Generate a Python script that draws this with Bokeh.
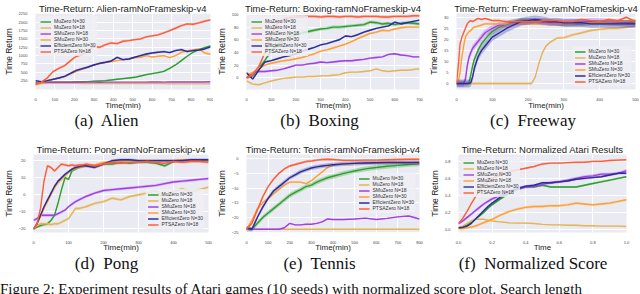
from bokeh.plotting import figure
from bokeh.layouts import column, row
from bokeh.models import Legend, LegendItem, Div, FixedTicker, PrintfTickFormatter, Range1d
from bokeh.embed import file_html
from bokeh.resources import INLINE

COLORS = ["#2ca02c", "#e6b453", "#a23fe6", "#ffa030", "#2c2c9e", "#ff5c38"]
LABELS = ["MuZero N=30", "MuZero N=18", "SMuZero N=18", "SMuZero N=30", "EfficientZero N=30", "PTSAZero N=18"]
LABELS_NORM = ["MuZero N=30", "MuZero N=18", "SMuZero N=30", "SMuZero N=18", "EfficientZero N=30", "PTSAZero N=18"]

# ---------------- Alien ----------------
alien_x = [0, 30, 60, 90, 120, 150, 180, 210, 240, 270, 300, 330, 360, 390, 420, 450, 480, 510, 540, 570, 600,
           630, 660, 690, 720, 750, 780, 810, 840, 870, 900]
alien_muzero30 = [200, 210, 200, 200, 200, 200, 205, 210, 215, 220, 230, 240, 250, 270, 290, 310, 330, 350, 390, 430,
                  460, 490, 530, 620, 720, 850, 980, 1100, 1180, 1240, 1290]
alien_muzero18 = [120, 160, 170, 170, 170, 170, 170, 170, 165, 165, 165, 165, 160, 160, 160, 160, 160, 160, 160, 160,
                  160, 160, 160, 155, 155, 155, 155, 155, 155, 155, 155]
alien_smuzero18 = [150, 190, 200, 200, 205, 200, 200, 200, 200, 205, 205, 200, 205, 205, 205, 205, 205, 205, 205, 205,
                   210, 210, 205, 210, 210, 210, 210, 210, 210, 210, 215]
alien_smuzero30 = [150, 200, 240, 290, 330, 370, 450, 530, 590, 650, 720, 760, 790, 820, 850, 880, 900, 940, 950, 1000,
                   960, 980, 1000, 940, 1000, 1100, 1150, 1170, 1200, 1080, 1040]
alien_efficient30 = [250, 220, 250, 290, 330, 380, 470, 560, 610, 660, 720, 770, 800, 840, 950, 880, 900, 950, 1000,
                     1050, 1080, 1100, 1120, 1090, 1150, 1180, 1120, 1150, 1170, 1200, 1260]
alien_ptsa18 = [150, 200, 330, 520, 620, 700, 850, 980, 1030, 1150, 1270, 1250, 1330, 1380, 1360, 1430, 1450, 1480,
                1500, 1560, 1590, 1620, 1680, 1750, 1820, 1900, 1950, 1940, 1980, 2030, 2070]
alien_spread = [25, 8, 8, 20, 30, 35]
alien_xticks = [0, 100, 200, 300, 400, 500, 600, 700, 800, 900]
alien_yticks = [250, 500, 750, 1000, 1250, 1500, 1750, 2000, 2250]

# ---------------- Boxing ----------------
boxing_x = [0, 25, 50, 75, 100, 125, 150, 175, 200, 225, 250, 275, 300, 325, 350, 375, 400, 425, 450, 475, 500,
            525, 550, 575, 600, 625, 650, 675, 700]
boxing_muzero30 = [0, 3, 15, 28, 42, 52, 60, 65, 68, 71, 73, 75, 77, 78, 80, 80, 81, 82, 83, 84, 88, 87, 85, 86, 84,
                   86, 87, 86, 85]
boxing_muzero18 = [-5, -10, -11, -8, -5, -3, -1, 0, 1, 1, 2, 2, 3, 3, 4, 5, 8, 9, 9, 10, 11, 14, 11, 10, 11, 12, 12,
                   13, 14]
boxing_smuzero18 = [0, 8, 10, 10, 11, 12, 14, 17, 20, 20, 22, 23, 25, 24, 25, 26, 27, 27, 28, 29, 31, 32, 33, 37, 38,
                    36, 35, 33, 33]
boxing_smuzero30 = [5, 8, 15, 20, 23, 25, 27, 28, 30, 32, 35, 38, 42, 44, 47, 50, 53, 57, 62, 66, 70, 72, 75, 74, 77,
                    79, 80, 80, 80]
boxing_efficient30 = [8, -2, 12, 25, 27, 30, 33, 35, 38, 42, 45, 48, 52, 54, 57, 60, 66, 65, 68, 72, 75, 78, 80, 82,
                      88, 85, 87, 89, 91]
boxing_ptsa18 = [0, 5, 18, 40, 68, 85, 93, 95, 96, 96, 97, 97, 96, 97, 97, 96, 97, 97, 96, 97, 97, 97, 96, 96, 97, 97,
                 97, 98, 98]
boxing_spread = [2.5, 1, 1.5, 1.5, 1.5, 2.5]
boxing_xticks = [0, 100, 200, 300, 400, 500, 600, 700]
boxing_yticks = [0, 20, 40, 60, 80, 100]

# ---------------- Freeway ----------------
freeway_x = [0, 5, 10, 15, 20, 25, 30, 35, 40, 45, 50, 60, 70, 80, 90, 100, 120, 140, 160, 180, 200, 210, 220, 230,
             240, 250, 260, 280, 300, 325, 350, 375, 400, 425, 450, 475, 500]
freeway_muzero30 = [0, 0, 0, 0, 0, 0, 0, 0.5, 4, 8, 11, 15, 18, 20, 22, 23.5, 25.5, 27, 28, 28.5, 28.5, 28.5, 28.5,
                    28.4, 28.3, 28.2, 28, 27.5, 27, 27, 27, 27.5, 27.5, 27.5, 27.5, 27.5, 28]
freeway_muzero18 = [0, 0, 0, 0, 0, 0, 0, 0, 0, 0, 0, 0, 0, 0, 0, 0, 0, 0, 0, 0, 0, 0, 3, 9, 14, 17, 18.5, 20.5, 20.8,
                    22, 23, 24, 24.5, 25, 25, 25.5, 26]
freeway_smuzero18 = [0, 0, 0, 0, 0, 2, 8, 12, 14, 16, 17, 19, 21, 23, 24, 25, 26.5, 27, 27.5, 28, 28, 28, 28, 28,
                     27.8, 27.8, 27.6, 27.5, 27.5, 27.6, 27.8, 28, 28, 27.8, 27.5, 27.2, 27]
freeway_smuzero30 = [0, 1, 5, 12, 17, 21, 22.5, 23.5, 24, 25, 25.5, 26, 26.5, 27, 27, 27, 27, 27, 27, 27, 27, 27, 27,
                     27, 27, 27, 27, 27, 27, 27.2, 27.5, 27.5, 27.5, 27.8, 28, 28.2, 28.5]
freeway_efficient30 = [0, 0, 0, 0, 0, 0, 0, 0, 0.5, 3, 7, 12, 15, 17, 19, 21, 23, 25, 26.5, 28, 28.5, 28.8, 29, 28.8,
                       28.5, 28.3, 28, 28, 27.5, 27.5, 27.5, 27, 27, 27, 27, 27, 27]
freeway_ptsa18 = [0, 8, 18, 21, 23, 25, 27, 28, 28.5, 28, 28.5, 29.5, 29, 29.5, 29, 28.5, 28.5, 28, 28, 28, 28, 28,
                  28, 28, 28.5, 28.5, 28.5, 28.5, 28, 28, 29, 28.5, 28, 29, 28.5, 30, 28]
freeway_spread = [1.2, 0.6, 1.5, 0.5, 1.8, 0.4]
freeway_xticks = [0, 100, 200, 300, 400, 500]
freeway_yticks = [0, 5, 10, 15, 20, 25, 30]

# ---------------- Pong ----------------
pong_x = [0, 10, 20, 30, 40, 50, 60, 70, 80, 90, 100, 110, 120, 130, 140, 150, 175, 200, 225, 250, 275, 300, 325,
          350, 375, 400, 425, 450, 475, 500]
pong_muzero30 = [-20, -19, -18, -17.5, -17, -15, -12, -5, 3, 10, 9, 14, 15, 16, 16.5, 17, 17, 18, 18, 19, 18.5, 19,
                 19, 18.5, 17, 19.5, 20, 20, 20, 20]
pong_muzero18 = [-20, -18, -17, -17, -17, -17.5, -17, -17, -16, -15, -14, -11, -8, -8, -7.5, -7, -5, -4, -2, -3, -1,
                 0, 1, 2.5, -3, 2, 3.5, 2, 3, 4.5]
pong_smuzero18 = [-15, -14, -12, -12, -12, -12, -12, -11, -10, -9, -7, -5.5, -4, -3, -2, -1, 1, 2.5, 3, 3.5, 4, 4.5,
                  5, 5.5, 6.5, 7.5, 8, 8.5, 9, 9.5]
pong_smuzero30 = [-20, -17, -13, -8, -4, 0, 4, 7, 9, 11, 13, 14.5, 15.5, 16, 16.5, 17, 17.5, 19, 19.5, 20, 20, 20, 20,
                  20, 20, 20, 20.5, 20.5, 20.5, 20.5]
pong_efficient30 = [-20, -17, -12, -7, -3, 1, 5, 8, 10, 12, 13.5, 15, 16, 16.5, 17, 17, 16, 18, 20, 20.5, 20.5, 20,
                    20, 20, 20, 20, 20, 20.5, 20.5, 20.5]
pong_ptsa18 = [-20, -17, -8, 8, 17, 16, 14, 16, 18, 17.5, 17, 17.5, 17, 17.5, 17.5, 18, 17, 18, 19, 18.5, 19, 19,
               19.5, 19, 18.5, 19.5, 19, 19.5, 19.5, 19]
pong_spread = [0.8, 0.8, 0.8, 0.6, 0.8, 0.8]
pong_xticks = [0, 100, 200, 300, 400, 500]
pong_yticks = [-20, -10, 0, 10, 20]

# ---------------- Tennis ----------------
tennis_x = [0, 25, 50, 75, 100, 125, 150, 175, 200, 225, 250, 275, 300, 325, 350, 375, 400, 450, 500, 550, 600, 650,
            700, 750, 800]
tennis_muzero30 = [-24, -24, -22, -20, -18.5, -17, -15.5, -14, -12.5, -11.5, -10.5, -9.5, -9, -8, -7.2, -6.5, -6, -5,
                   -4.2, -3.5, -3, -2.6, -2.3, -2, -1.8]
tennis_muzero18 = [-24, -24, -24, -24, -24, -24, -24, -24, -24, -24, -24, -24, -24, -24, -24, -24, -24, -24, -24,
                   -24, -24, -24, -24, -24, -24]
tennis_smuzero18 = [-24, -24, -24, -24, -24, -24, -24, -23.5, -22, -22.5, -22.5, -22.3, -22.3, -22, -21.5, -20.5,
                    -20.7, -20.7, -20.5, -20.2, -20.7, -20.3, -19.8, -19.5, -20.5]
tennis_smuzero30 = [-24, -21, -17, -15, -13.5, -12, -10.5, -9, -8, -8, -8, -8.5, -7.5, -6, -4.5, -3, -2.3, -1.8,
                    -1.6, -1.5, -1.4, -1.4, -1.4, -1.5, -1.5]
tennis_efficient30 = [-23.5, -24, -20, -16.5, -13.5, -11, -9.5, -8, -6.5, -5.5, -4.5, -3.8, -3.2, -2.8, -2.5, -2.3,
                      -2.1, -1.8, -1.6, -1.5, -1.4, -1.3, -1.3, -1.3, -1.3]
tennis_ptsa18 = [-24, -22, -17.5, -13, -9.5, -7, -5, -3.5, -2.5, -2, -1.5, -1, -0.8, -0.5, -0.3, -0.2, -0.3, -0.6,
                 -0.6, -0.5, -0.5, -0.4, -0.3, -0.2, -0.2]
tennis_spread = [0.8, 0.1, 0.2, 0.3, 0.7, 0.4]
tennis_xticks = [0, 100, 200, 300, 400, 500, 600, 700, 800]
tennis_yticks = [-25, -20, -15, -10, -5, 0]

# ---------------- Normalized ----------------
norm_x = [0, 0.025, 0.05, 0.075, 0.1, 0.125, 0.15, 0.175, 0.2, 0.25, 0.3, 0.35, 0.4, 0.45, 0.5, 0.55, 0.6, 0.65, 0.7,
          0.75, 0.8, 0.85, 0.9, 0.95, 1.0]
norm_muzero30 = [0.02, 0.03, 0.05, 0.08, 0.12, 0.16, 0.2, 0.25, 0.29, 0.36, 0.42, 0.47, 0.5, 0.5, 0.52, 0.5, 0.5,
                 0.5, 0.5, 0.52, 0.54, 0.56, 0.58, 0.6, 0.62]
norm_muzero18 = [0.02, 0.04, 0.07, 0.1, 0.12, 0.12, 0.12, 0.11, 0.1, 0.09, 0.08, 0.075, 0.075, 0.07, 0.06, 0.055,
                 0.055, 0.05, 0.05, 0.045, 0.045, 0.04, 0.04, 0.04, 0.035]
norm_smuzero30 = [0.07, 0.1, 0.14, 0.18, 0.22, 0.26, 0.3, 0.33, 0.36, 0.4, 0.45, 0.48, 0.5, 0.51, 0.53, 0.55, 0.56,
                  0.58, 0.6, 0.62, 0.63, 0.65, 0.65, 0.66, 0.69]
norm_smuzero18 = [0.01, 0.01, 0.02, 0.03, 0.04, 0.06, 0.08, 0.1, 0.12, 0.17, 0.21, 0.24, 0.26, 0.27, 0.27, 0.28, 0.28,
                  0.29, 0.31, 0.3, 0.29, 0.3, 0.31, 0.33, 0.35]
norm_efficient30 = [0.02, 0.025, 0.04, 0.07, 0.12, 0.17, 0.22, 0.27, 0.31, 0.38, 0.44, 0.48, 0.51, 0.52, 0.55, 0.55,
                    0.56, 0.57, 0.59, 0.6, 0.61, 0.62, 0.64, 0.66, 0.66]
norm_ptsa18 = [0.07, 0.13, 0.21, 0.3, 0.38, 0.46, 0.52, 0.57, 0.6, 0.64, 0.68, 0.7, 0.72, 0.74, 0.77, 0.78, 0.78,
               0.785, 0.79, 0.79, 0.8, 0.8, 0.81, 0.815, 0.82]
norm_spread = [0.012, 0.006, 0.018, 0.015, 0.012, 0.01]
norm_ticks = [0.0, 0.2, 0.4, 0.6, 0.8, 1.0]
norm_yticks = [0.0, 0.2, 0.4, 0.6, 0.8]

CAPTIONS = ["(a)\u00a0 Alien", "(b)\u00a0 Boxing", "(c)\u00a0 Freeway",
            "(d)\u00a0 Pong", "(e)\u00a0 Tennis", "(f)\u00a0 Normalized Score"]
FOOTER = "Figure 2: Experiment results of Atari games (10 seeds) with normalized score plot. Search length"

SANS = "Liberation Sans"
SERIF = "Liberation Serif"


def panel(title, xs, ys, spreads, labels, xr, yr, xticks, yticks, w, h, borders, legend_loc,
          xlabel="Time(min)", fmt=None, xlab_standoff=-3):
    left, right, top, bottom = borders
    p = figure(width=w, height=h, x_range=Range1d(*xr), y_range=Range1d(*yr),
               output_backend="svg", toolbar_location=None,
               min_border_left=left, min_border_right=right, min_border_top=top, min_border_bottom=bottom)
    p.title.text = title
    p.title.align = "center"
    p.title.text_font = SANS
    p.title.text_font_size = "9.5px"
    p.title.text_font_style = "normal"
    p.title.text_color = "#222222"
    p.title.standoff = 0
    p.background_fill_color = "#eaeaf2"
    p.border_fill_color = "white"
    p.outline_line_color = None
    p.grid.grid_line_color = "white"
    p.grid.grid_line_width = 1
    for ax in (p.xaxis, p.yaxis):
        ax.axis_line_color = None
        ax.major_tick_line_color = None
        ax.minor_tick_line_color = None
        ax.major_label_text_font = SANS
        ax.major_label_text_font_size = "4px"
        ax.major_label_text_color = "#444444"
        ax.major_label_standoff = 2
        ax.axis_label_text_font = SANS
        ax.axis_label_text_font_style = "normal"
        ax.axis_label_text_color = "#222222"
    p.xaxis.axis_label = xlabel
    p.xaxis.axis_label_text_font_size = "8px"
    p.xaxis.axis_label_standoff = xlab_standoff
    p.yaxis.axis_label = "Time Return"
    p.yaxis.axis_label_text_font_size = "8.5px"
    p.yaxis.axis_label_standoff = 2
    p.xaxis.ticker = FixedTicker(ticks=xticks)
    p.yaxis.ticker = FixedTicker(ticks=yticks)
    if fmt:
        p.xaxis.formatter = PrintfTickFormatter(format=fmt)
        p.yaxis.formatter = PrintfTickFormatter(format=fmt)

    items = []
    for y, s, lab, col in zip(ys, spreads, labels, COLORS):
        lo = [v - s for v in y]
        hi = [v + s for v in y]
        p.varea(x=xs, y1=lo, y2=hi, fill_color=col, fill_alpha=0.3)
        r = p.line(xs, y, line_color=col, line_width=1.4)
        items.append(LegendItem(label=lab, renderers=[r]))
    leg = Legend(items=items, location=legend_loc,
                 label_text_font=SANS, label_text_font_size="5px", label_text_color="#333333",
                 label_height=5, glyph_height=5, glyph_width=11, spacing=0, padding=2, margin=3,
                 label_standoff=3, background_fill_color="#eeeef4", background_fill_alpha=0.85,
                 border_line_alpha=0)
    p.add_layout(leg)
    return p


def caption(text, w, h, lh):
    html = ('<div style="width:%dpx;text-align:center;font-family:\'Liberation Serif\',serif;'
            'font-size:17px;line-height:%dpx;white-space:nowrap;color:#111">%s</div>') % (w, lh, text)
    return Div(text=html, width=w, height=h, margin=0)


pa = panel("Time-Return: Alien-ramNoFrameskip-v4", alien_x,
           [alien_muzero30, alien_muzero18, alien_smuzero18, alien_smuzero30, alien_efficient30, alien_ptsa18],
           alien_spread, LABELS, (0, 900), (-15, 2262), alien_xticks, alien_yticks, 213, 112, (28, 3, 10, 15),
           "top_left")
pb = panel("Time-Return: Boxing-ramNoFrameskip-v4", boxing_x,
           [boxing_muzero30, boxing_muzero18, boxing_smuzero18, boxing_smuzero30, boxing_efficient30, boxing_ptsa18],
           boxing_spread, LABELS, (0, 700), (-18.5, 101.5), boxing_xticks, boxing_yticks, 213, 112, (20, 7, 10, 15),
           "top_left")
pc = panel("Time-Return: Freeway-ramNoFrameskip-v4", freeway_x,
           [freeway_muzero30, freeway_muzero18, freeway_smuzero18, freeway_smuzero30, freeway_efficient30,
            freeway_ptsa18],
           freeway_spread, LABELS, (0, 500), (-2.7, 31.7), freeway_xticks, freeway_yticks, 214, 112, (16, 5, 10, 15),
           "bottom_right")
pd_ = panel("Time-Return: Pong-ramNoFrameskip-v4", pong_x,
            [pong_muzero30, pong_muzero18, pong_smuzero18, pong_smuzero30, pong_efficient30, pong_ptsa18],
            pong_spread, LABELS, (0, 500), (-22.1, 23.6), pong_xticks, pong_yticks, 213, 114, (25, 5, 14, 13),
            "bottom_right", xlab_standoff=-4)
pe = panel("Time-Return: Tennis-ramNoFrameskip-v4", tennis_x,
           [tennis_muzero30, tennis_muzero18, tennis_smuzero18, tennis_smuzero30, tennis_efficient30, tennis_ptsa18],
           tennis_spread, LABELS, (0, 800), (-25.1, 1.4), tennis_xticks, tennis_yticks, 213, 114, (19, 7, 12, 12),
           "center_right", xlab_standoff=-4)
pf = panel("Time-Return: Normalized Atari Results", norm_x,
           [norm_muzero30, norm_muzero18, norm_smuzero30, norm_smuzero18, norm_efficient30, norm_ptsa18],
           norm_spread, LABELS_NORM, (0, 1), (-0.035, 0.881), norm_ticks, norm_yticks, 214, 114, (13, 14, 13, 13),
           "top_left", xlabel="Time", fmt="%.1f", xlab_standoff=-4)

cap_row1 = row(caption(CAPTIONS[0], 213, 28, 18), caption(CAPTIONS[1], 213, 28, 18),
               caption(CAPTIONS[2], 214, 28, 18))
cap_row2 = row(caption(CAPTIONS[3], 213, 26, 20), caption(CAPTIONS[4], 213, 26, 20),
               caption(CAPTIONS[5], 214, 26, 20))

footer = Div(text='<span style="font-family:\'Liberation Serif\',serif;font-size:15px;line-height:18px;'
                  'white-space:nowrap;color:#111">' + FOOTER + '</span>',
             width=640, height=14, margin=0, styles={"overflow": "hidden"})

layout = column(row(pa, pb, pc), cap_row1, row(pd_, pe, pf), cap_row2, footer)

open("out.html", "w").write(file_html(layout, INLINE))
